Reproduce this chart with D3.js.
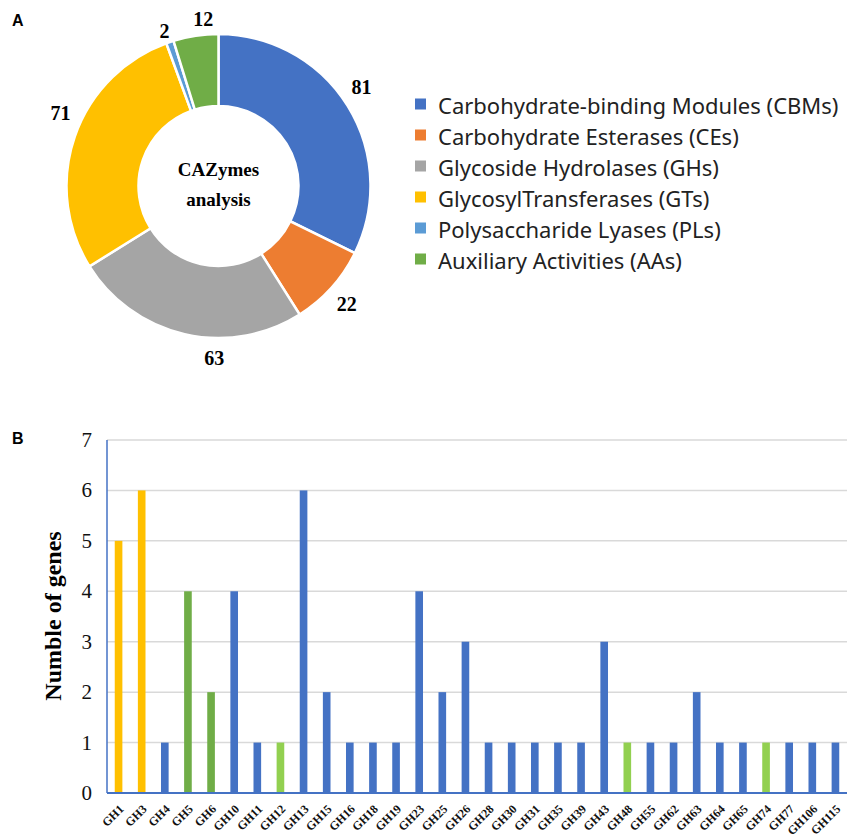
<!DOCTYPE html>
<html>
<head>
<meta charset="utf-8">
<script src="https://cdn.jsdelivr.net/npm/d3@7/dist/d3.min.js"></script>
<style>
  html, body { margin: 0; padding: 0; background: #fff; }
  svg { display: block; }
</style>
</head>
<body>
<svg id="chart" width="858" height="839"></svg>
<script>
// ---------- Data ----------
const pieCategories = [
  "Carbohydrate-binding Modules (CBMs)",
  "Carbohydrate Esterases (CEs)",
  "Glycoside Hydrolases (GHs)",
  "GlycosylTransferases (GTs)",
  "Polysaccharide Lyases (PLs)",
  "Auxiliary Activities (AAs)"
];
const pieValues = [81, 22, 63, 71, 2, 12];
const pieColors = ["#4472C4", "#ED7D31", "#A5A5A5", "#FFC000", "#5B9BD5", "#70AD47"];

const ghFamilies = ["GH1","GH3","GH4","GH5","GH6","GH10","GH11","GH12","GH13","GH15","GH16","GH18","GH19","GH23","GH25","GH26","GH28","GH30","GH31","GH35","GH39","GH43","GH48","GH55","GH62","GH63","GH64","GH65","GH74","GH77","GH106","GH115"];
const ghCounts   = [5,6,1,4,2,4,1,1,6,2,1,1,1,4,2,3,1,1,1,1,1,3,1,1,1,2,1,1,1,1,1,1];
// colour group of each bar
const ghGroup    = ["y","y","b","g","g","b","b","lg","b","b","b","b","b","b","b","b","b","b","b","b","b","b","lg","b","b","b","b","b","lg","b","b","b"];
const yTicks = [0,1,2,3,4,5,6,7];

const groupColor = { b: "#4472C4", y: "#FFC000", g: "#70AD47", lg: "#92D050" };

const svg = d3.select("#chart");
const serif = "'Liberation Serif', 'Times New Roman', serif";

// ---------- Panel labels ----------
svg.append("text").attr("x", 12).attr("y", 26).text("A")
  .attr("font-family", "'Liberation Sans', Arial, sans-serif").attr("font-weight", "bold").attr("font-size", 16);
svg.append("text").attr("x", 12).attr("y", 444).text("B")
  .attr("font-family", "'Liberation Sans', Arial, sans-serif").attr("font-weight", "bold").attr("font-size", 16);

// ---------- Donut ----------
const cx = 218.5, cy = 186, rOuter = 152, rInner = 80;
const gPie = svg.append("g").attr("transform", `translate(${cx},${cy})`);
const pie = d3.pie().sort(null).value(d => d)(pieValues);
const arc = d3.arc().innerRadius(rInner).outerRadius(rOuter);
gPie.selectAll("path").data(pie).join("path")
  .attr("d", arc)
  .attr("fill", (d, i) => pieColors[i])
  .attr("stroke", "#fff").attr("stroke-width", 2.5);

// value labels outside the ring
const angleNudge = [-0.05, 0.01, -0.2, 0.1, -0.01, 0.06];
const labelR = [174, 174, 172, 174, 164, 168];
gPie.selectAll("text.val").data(pie).join("text")
  .attr("class", "val")
  .attr("transform", (d, i) => {
    const a = (d.startAngle + d.endAngle) / 2 + angleNudge[i];
    const r = labelR[i];
    return `translate(${Math.sin(a) * r},${-Math.cos(a) * r})`;
  })
  .attr("text-anchor", "middle").attr("dominant-baseline", "central")
  .attr("font-family", serif).attr("font-weight", "bold").attr("font-size", 20)
  .text(d => d.data);

gPie.append("text").attr("x", 0).attr("y", -17).attr("text-anchor", "middle")
  .attr("dominant-baseline", "central")
  .attr("font-family", serif).attr("font-weight", "bold").attr("font-size", 19)
  .text("CAZymes");
gPie.append("text").attr("x", 0).attr("y", 13).attr("text-anchor", "middle")
  .attr("dominant-baseline", "central")
  .attr("font-family", serif).attr("font-weight", "bold").attr("font-size", 19)
  .text("analysis");

// ---------- Legend ----------
const gLeg = svg.append("g").attr("transform", "translate(415,104)");
const leg = gLeg.selectAll("g").data(pieCategories).join("g")
  .attr("transform", (d, i) => `translate(0,${i * 31})`);
leg.append("rect").attr("x", 0).attr("y", -5.5).attr("width", 11).attr("height", 11)
  .attr("fill", (d, i) => pieColors[i]);
leg.append("text").attr("x", 23).attr("y", 1).attr("dominant-baseline", "central")
  .attr("font-family", "'Noto Sans', sans-serif").attr("font-size", 22)
  .attr("fill", "#222")
  .text(d => d);

// ---------- Bar chart ----------
const x0 = 107, x1 = 847, yTop = 440, yBot = 793;
const x = d3.scaleBand().domain(ghFamilies).range([x0, x1]).padding(0);
const y = d3.scaleLinear().domain([0, 7]).range([yBot, yTop]);
const gBar = svg.append("g");

// gridlines
gBar.selectAll("line.grid").data(yTicks.filter(t => t > 0)).join("line")
  .attr("x1", x0).attr("x2", x1)
  .attr("y1", d => y(d)).attr("y2", d => y(d))
  .attr("stroke", "#D9D9D9").attr("stroke-width", 1.5);

// y tick labels
gBar.selectAll("text.yt").data(yTicks).join("text")
  .attr("x", 92).attr("y", d => y(d))
  .attr("text-anchor", "end").attr("dominant-baseline", "central")
  .attr("font-family", serif).attr("font-size", 21).attr("fill", "#111")
  .text(d => d);

// bars
const barW = x.bandwidth() * 0.33;
gBar.selectAll("rect.bar").data(ghFamilies).join("rect")
  .attr("x", d => x(d) + (x.bandwidth() - barW) / 2)
  .attr("y", (d, i) => y(ghCounts[i]))
  .attr("width", barW)
  .attr("height", (d, i) => y(0) - y(ghCounts[i]))
  .attr("fill", (d, i) => groupColor[ghGroup[i]]);

// axes lines
gBar.append("line").attr("x1", x0).attr("x2", x0).attr("y1", yTop).attr("y2", yBot)
  .attr("stroke", "#4472C4").attr("stroke-width", 1.5);
gBar.append("line").attr("x1", x0).attr("x2", x1).attr("y1", yBot).attr("y2", yBot)
  .attr("stroke", "#4472C4").attr("stroke-width", 2);

// x labels
gBar.selectAll("text.xl").data(ghFamilies).join("text")
  .attr("transform", d => `translate(${x(d) + x.bandwidth() / 2 + 3},${yBot + 14}) rotate(-45)`)
  .attr("text-anchor", "end").attr("dominant-baseline", "central")
  .attr("font-family", serif).attr("font-weight", "bold").attr("font-size", 12).attr("fill", "#111")
  .text(d => d);

// y title
svg.append("text")
  .attr("transform", `translate(53,616) rotate(-90)`)
  .attr("text-anchor", "middle").attr("dominant-baseline", "central")
  .attr("font-family", serif).attr("font-weight", "bold").attr("font-size", 24)
  .text("Numble of genes");
</script>
</body>
</html>
